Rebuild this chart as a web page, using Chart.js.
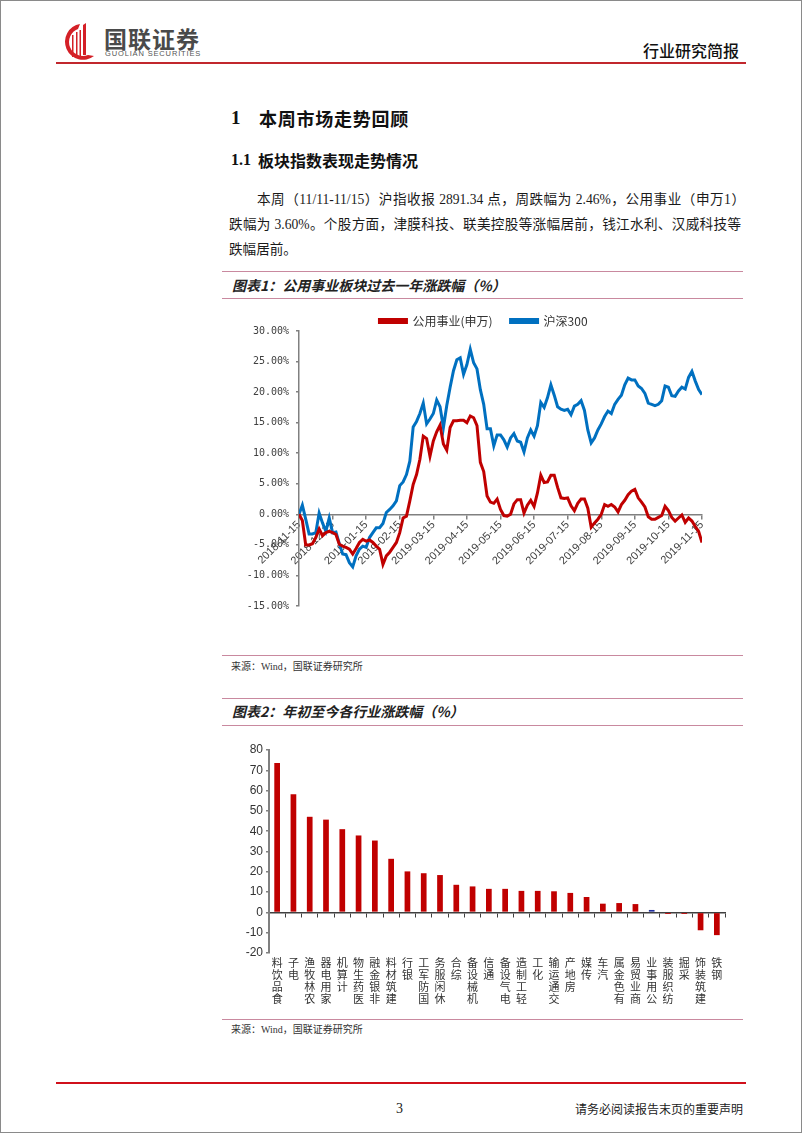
<!DOCTYPE html>
<html><head><meta charset="utf-8">
<script src="https://cdn.jsdelivr.net/npm/chart.js@4.4.0/dist/chart.umd.min.js"></script>
<style>
html,body{margin:0;padding:0;background:#fff;}
body{width:802px;height:1133px;position:relative;overflow:hidden;}
#frame{position:absolute;left:0;top:0;width:802px;height:1133px;box-sizing:border-box;border:1px solid #8a8a8a;pointer-events:none;}
.abs{position:absolute;white-space:nowrap;}
.cn{font-family:"Liberation Serif","Noto Sans CJK SC",serif;color:#1a1a1a;}
.hline{position:absolute;height:0;}
.pink{border-top:1.5px solid #c9899f;left:222px;width:521px;}
.title{font-family:"Noto Sans CJK SC",sans-serif;font-weight:700;font-style:italic;font-size:14px;color:#222;line-height:20px;}
.src{font-family:"Liberation Serif","Noto Sans CJK SC",serif;font-size:10px;color:#333;line-height:14px;}
.para{font-size:13.6px;line-height:20px;}
.just{text-align:justify;text-align-last:justify;white-space:nowrap;}
</style></head>
<body>
<div id="frame"></div>

<!-- header -->
<svg class="abs" style="left:59px;top:22px" width="38" height="40" viewBox="0 0 38 40">
  <path d="M21 2 A18 18 0 1 0 35 34 L29 33 A13 13 0 1 1 19 7 Z" fill="#d42027"/>
  <path d="M24 3 L27 1 L27 33 L24 33 Z" fill="#d42027"/>
  <rect x="13" y="13" width="1.5" height="22" fill="#d42027"/>
  <rect x="17" y="10" width="1.5" height="25" fill="#d42027"/>
  <rect x="20.5" y="8" width="1.5" height="27" fill="#d42027"/>
</svg>
<div class="abs" style="left:104px;top:24px;font-family:'Noto Sans CJK SC';font-weight:700;font-size:23px;line-height:28px;color:#4a4a4a;letter-spacing:1px;">国联证券</div>
<div class="abs" style="left:105px;top:50px;font-family:'Liberation Sans';font-size:7.5px;line-height:8px;color:#555;letter-spacing:0.85px;">GUOLIAN SECURITIES</div>
<div class="abs" style="left:643px;top:40px;font-family:'Noto Sans CJK SC';font-weight:500;font-size:16px;line-height:20px;color:#111;">行业研究简报</div>
<div class="hline" style="left:56px;width:690px;top:62px;border-top:2px solid #c1272d;"></div>

<!-- headings -->
<div class="abs" style="left:231px;top:106px;font-family:'Liberation Serif';font-weight:700;font-size:19px;line-height:24px;color:#111;">1</div>
<div class="abs" style="left:259px;top:106px;font-family:'Noto Sans CJK SC';font-weight:700;font-size:18px;line-height:24px;letter-spacing:0.75px;color:#111;">本周市场走势回顾</div>
<div class="abs" style="left:231px;top:149px;font-family:'Liberation Serif';font-weight:700;font-size:16px;line-height:22px;color:#111;">1.1</div>
<div class="abs" style="left:258px;top:149px;font-family:'Noto Sans CJK SC';font-weight:700;font-size:16px;line-height:22px;color:#111;">板块指数表现走势情况</div>

<!-- paragraph -->
<div class="abs cn para just" style="left:257px;top:190px;width:488px;">本周（11/11-11/15）沪指收报 2891.34 点，周跌幅为 2.46%，公用事业（申万1）</div>
<div class="abs cn para just" style="left:229px;top:215px;width:512px;">跌幅为 3.60%。个股方面，津膜科技、联美控股等涨幅居前，钱江水利、汉威科技等</div>
<div class="abs cn para" style="left:229px;top:240px;">跌幅居前。</div>

<!-- figure 1 -->
<div class="hline pink" style="top:271px;"></div>
<div class="abs title" style="left:232px;top:275px;">图表1：公用事业板块过去一年涨跌幅（%）</div>
<div class="hline pink" style="top:298px;"></div>
<canvas id="c1" class="abs" style="left:222px;top:280px;" width="523" height="375"></canvas>
<div class="hline pink" style="top:655px;"></div>
<div class="abs src" style="left:231px;top:660px;">来源：Wind，国联证券研究所</div>

<!-- figure 2 -->
<div class="hline pink" style="top:698px;"></div>
<div class="abs title" style="left:232px;top:701px;">图表2：年初至今各行业涨跌幅（%）</div>
<div class="hline pink" style="top:725px;"></div>
<canvas id="c2" class="abs" style="left:222px;top:726px;" width="523" height="293"></canvas>
<div class="hline pink" style="top:1019px;"></div>
<div class="abs src" style="left:231px;top:1023px;">来源：Wind，国联证券研究所</div>

<!-- footer -->
<div class="hline" style="left:56px;width:690px;top:1082px;border-top:2px solid #d0101b;"></div>
<div class="abs" style="left:396px;top:1100px;font-family:'Liberation Serif';font-size:14px;line-height:18px;color:#222;">3</div>
<div class="abs" style="left:575px;top:1101px;font-family:'Noto Sans CJK SC';font-size:12px;line-height:16px;color:#222;">请务必阅读报告末页的重要声明</div>

<script>
// ---------- Figure 1 data ----------
const dateLabels = ['2018-11-15','2018-12-15','2019-01-15','2019-02-15','2019-03-15','2019-04-15','2019-05-15','2019-06-15','2019-07-15','2019-08-15','2019-09-15','2019-10-15','2019-11-15'];
const seriesNames = ['公用事业(申万)', '沪深300'];
const utilities = [
 0,-1.0,-5.0,-5.0,-4.8,-3.8,-2.4,-3.5,-3.0,-2.8,
 -3.0,-3.3,-4.9,-5.2,-5.4,-5.7,-6.5,-5.6,-4.6,-4.1,
 -4.4,-4.2,-4.6,-5.2,-5.7,-8.2,-6.8,-6.2,-5.4,-4.6,
 -3.0,-0.6,-0.3,2.2,4.9,6.5,9.0,12.8,12.4,9.5,
 12.0,13.5,14.6,11.5,10.5,14.2,15.3,15.3,15.4,15.4,
 15.0,16.1,15.8,14.5,8.5,7.0,3.0,2.0,1.8,2.5,
 0.8,-0.2,-0.3,0.0,1.7,2.4,2.4,0.2,1.5,2.3,
 1.3,3.5,6.4,5.2,5.3,6.4,6.4,4.4,2.7,2.6,
 2.7,1.4,0.6,1.8,2.5,2.5,1.0,-2.1,-1.4,-0.8,
 0.0,1.6,1.3,1.6,1.2,0.4,1.6,2.3,3.2,3.8,
 4.1,2.7,2.0,1.2,-0.4,-0.8,-0.8,-0.5,-0.2,1.3,
 0.6,-0.5,-1.1,-0.6,-0.1,-1.3,-0.6,-1.1,-2.0,-2.8,
 -4.6];
const hs300 = [
 0,1.5,-0.8,-3.2,-3.2,-3.0,0.2,-1.4,-2.8,-0.6,
 -3.0,-2.9,-4.8,-6.5,-6.6,-7.9,-8.6,-6.8,-5.7,-5.2,
 -5.4,-3.8,-3.0,-2.2,-2.2,-1.5,0.3,0.8,1.4,2.2,
 4.7,5.3,6.5,8.7,14.3,15.2,16.5,18.2,14.8,15.6,
 16.5,18.7,17.6,14.2,17.8,20.8,23.5,25.3,25.6,22.9,
 24.5,27.0,24.8,23.8,20.4,18.0,14.0,14.0,11.2,13.0,
 13.0,12.2,11.0,12.5,13.2,12.0,11.8,10.2,12.5,13.8,
 12.8,14.5,18.3,17.5,19.1,21.2,19.5,17.6,17.2,17.0,
 17.2,16.3,17.7,18.0,18.6,17.0,13.8,11.7,12.5,13.8,
 14.8,16.0,16.9,16.5,18.0,18.8,19.5,21.2,22.3,22.0,
 22.0,21.0,20.6,19.8,18.2,18.0,17.8,18.0,18.6,21.0,
 20.8,19.4,19.3,20.2,20.8,20.5,22.4,23.4,21.8,20.4,
 19.6];

// ---------- Figure 2 data ----------
const industries = ['食品饮料','电子','农林牧渔','家用电器','计算机','医药生物','非银金融','建筑材料','银行','国防军工','休闲服务','综合','机械设备','通信','电气设备','轻工制造','化工','交通运输','房地产','传媒','汽车','有色金属','商业贸易','公用事业','纺织服装','采掘','建筑装饰','钢铁'];
const ytdChange = [73.6,58.2,47.1,45.7,41.0,37.9,35.4,26.4,20.2,19.3,18.4,13.6,12.8,11.6,11.6,10.6,10.6,10.4,9.6,7.6,4.3,4.6,4.1,1.2,-0.8,-0.8,-8.8,-11.2];
const highlight = '公用事业';

const AX = '#808080', TXT = '#404040';

// ---------- Chart 1 ----------
const nPts = hs300.length;
const tickPos = dateLabels.map((_, k) => k * (nPts - 1) / (dateLabels.length - 1));
new Chart(document.getElementById('c1'), {
  type: 'line',
  data: {
    datasets: [
      {label: seriesNames[0], data: utilities.map((v, i) => ({x: i, y: v})), borderColor: '#c00000', backgroundColor: '#c00000', borderWidth: 3, pointRadius: 0, tension: 0},
      {label: seriesNames[1], data: hs300.map((v, i) => ({x: i, y: v})), borderColor: '#0070c0', backgroundColor: '#0070c0', borderWidth: 3, pointRadius: 0, tension: 0}
    ]
  },
  options: {
    responsive: false, animation: false, devicePixelRatio: 1,
    layout: {padding: {left: 0, right: 0, top: 17, bottom: 49}},
    plugins: {
      tooltip: {enabled: false},
      legend: {maxHeight: 34, labels: {boxWidth: 27, boxHeight: 3, padding: 18, color: '#333', font: {family: 'Noto Sans CJK SC', size: 12}}}
    },
    scales: {
      x: {
        type: 'linear', min: 0, max: nPts - 1, position: {y: 0},
        afterBuildTicks: s => { s.ticks = tickPos.map(v => ({value: v})); },
        afterFit: s => { s.height = 0; },
        ticks: {autoSkip: false, minRotation: 45, maxRotation: 45, padding: 0, color: TXT,
          font: {family: 'Liberation Sans', size: 11}, callback: (v, i) => dateLabels[i]},
        grid: {drawOnChartArea: false, tickLength: 4, color: AX, lineWidth: 1.5},
        border: {color: AX, width: 1.5}
      },
      y: {
        min: -15, max: 30,
        afterFit: s => { s.width = 77; },
        ticks: {stepSize: 5, padding: 7, color: TXT, font: {family: 'DejaVu Sans Mono', size: 10},
          callback: v => v.toFixed(2) + '%'},
        grid: {drawOnChartArea: false, tickLength: 3, color: AX, lineWidth: 1.5},
        border: {color: AX, width: 1.5}
      },
      yRight: {
        position: 'right', min: -15, max: 30,
        afterFit: s => { s.width = 43; },
        ticks: {display: false}, grid: {display: false}, border: {display: false}
      }
    }
  }
});

// ---------- Chart 2 ----------
new Chart(document.getElementById('c2'), {
  type: 'bar',
  data: {
    labels: industries,
    datasets: [{data: ytdChange, backgroundColor: industries.map(n => n === highlight ? '#1f2c9c' : '#c00000'),
      barPercentage: 0.35, categoryPercentage: 1}]
  },
  options: {
    responsive: false, animation: false, devicePixelRatio: 1,
    layout: {padding: {left: 0, right: 20, top: 24, bottom: 0}},
    plugins: {legend: {display: false}, tooltip: {enabled: false}},
    scales: {
      x: {
        afterFit: s => { s.height = 66; },
        grid: {display: false, drawTicks: false},
        border: {display: false},
        ticks: {autoSkip: false, minRotation: 0, maxRotation: 0, padding: 4, color: '#333',
          font: {family: 'Noto Sans CJK SC', size: 11, lineHeight: '12px'},
          callback: (v, i) => industries[i].split('').reverse()}
      },
      x2: {
        type: 'category', position: {y: 0}, offset: true,
        afterFit: s => { s.height = 0; },
        ticks: {display: false},
        grid: {offset: true, drawOnChartArea: false, tickLength: 4, color: '#404040', lineWidth: 1},
        border: {color: '#404040', width: 1.5}
      },
      y: {
        min: -20, max: 80,
        afterFit: s => { s.width = 47; },
        ticks: {stepSize: 10, padding: 3, color: '#333', font: {family: 'Liberation Sans', size: 12}},
        grid: {drawOnChartArea: false, tickLength: 3, color: AX, lineWidth: 1.5},
        border: {color: AX, width: 2}
      }
    }
  }
});
</script>
</body></html>
